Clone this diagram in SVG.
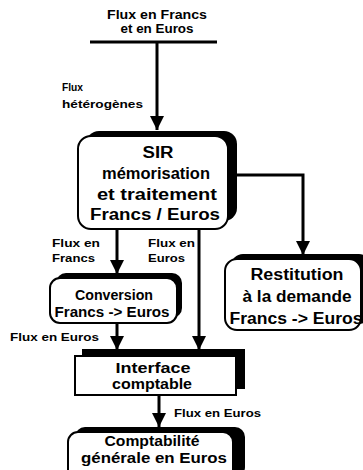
<svg xmlns="http://www.w3.org/2000/svg" width="363" height="470" viewBox="0 0 363 470">
<style>
text{font-family:"Liberation Sans","DejaVu Sans",sans-serif;font-weight:bold;fill:#000}
.lbl{font-size:11.5px}
.box{fill:#fff;stroke:#000;stroke-width:2}
.sh{fill:#000}
.big{font-size:16px;text-anchor:middle}
.mid{font-size:14px;text-anchor:middle}
.ln{fill:none;stroke:#000;stroke-width:3}
</style>
<defs>
<marker id="ah" markerUnits="userSpaceOnUse" markerWidth="14" markerHeight="14" viewBox="0 0 14 14" refX="14" refY="7" orient="auto">
<path d="M0,0 L14,7 L0,14 Z" fill="#000"/>
</marker>
</defs>
<rect width="363" height="470" fill="#fff"/>
<g id="source">
<text x="157" y="19" font-size="12" text-anchor="middle" textLength="100" lengthAdjust="spacingAndGlyphs">Flux  en Francs</text>
<text x="157" y="33" font-size="12" text-anchor="middle" textLength="73" lengthAdjust="spacingAndGlyphs">et en Euros</text>
<line x1="90" y1="42" x2="217" y2="42" stroke="#000" stroke-width="3"/>
</g>
<g id="connectors">
<line class="ln" x1="157" y1="42" x2="157" y2="130" marker-end="url(#ah)"/>
<polyline class="ln" points="236,175 303,175 303,255" marker-end="url(#ah)"/>
<line class="ln" x1="117" y1="229" x2="117" y2="274" marker-end="url(#ah)"/>
<line class="ln" x1="199" y1="229" x2="199" y2="350" marker-end="url(#ah)"/>
<line class="ln" x1="117" y1="323" x2="117" y2="350" marker-end="url(#ah)"/>
<line class="ln" x1="159" y1="395" x2="159" y2="427" marker-end="url(#ah)"/>
<text class="lbl" x="62" y="91" textLength="21" lengthAdjust="spacingAndGlyphs">Flux</text>
<text class="lbl" x="62" y="108" textLength="81" lengthAdjust="spacingAndGlyphs">hétérogènes</text>
<text class="lbl" x="52" y="247" textLength="48" lengthAdjust="spacingAndGlyphs">Flux en</text>
<text class="lbl" x="52" y="262" textLength="43" lengthAdjust="spacingAndGlyphs">Francs</text>
<text class="lbl" x="148" y="247" textLength="47" lengthAdjust="spacingAndGlyphs">Flux en</text>
<text class="lbl" x="148" y="262" textLength="37" lengthAdjust="spacingAndGlyphs">Euros</text>
<text class="lbl" x="10" y="341" textLength="89" lengthAdjust="spacingAndGlyphs">Flux en Euros</text>
<text class="lbl" x="174" y="417" textLength="87" lengthAdjust="spacingAndGlyphs">Flux en Euros</text>
</g>
<g id="sir">
<rect class="sh" x="86" y="131" width="151" height="90" rx="13"/>
<rect class="box" x="78" y="136" width="150" height="93" rx="13"/>
<text class="big" x="158" y="158" textLength="31" lengthAdjust="spacingAndGlyphs">SIR</text>
<text class="big" x="156" y="179" textLength="108" lengthAdjust="spacingAndGlyphs">mémorisation</text>
<text class="big" x="157" y="200" textLength="120" lengthAdjust="spacingAndGlyphs">et traitement</text>
<text class="big" x="155" y="220" textLength="130" lengthAdjust="spacingAndGlyphs">Francs / Euros</text>
</g>
<g id="restitution">
<rect class="sh" x="231" y="254" width="140" height="70" rx="12"/>
<rect class="box" x="225" y="259" width="136" height="71" rx="12"/>
<text class="big" x="297" y="280" textLength="93" lengthAdjust="spacingAndGlyphs">Restitution</text>
<text class="big" x="297" y="302" textLength="109" lengthAdjust="spacingAndGlyphs">à la demande</text>
<text class="big" x="296" y="324" textLength="133" lengthAdjust="spacingAndGlyphs">Francs -&gt; Euros</text>
</g>
<g id="conversion">
<rect class="sh" x="56" y="273" width="126" height="45" rx="10"/>
<rect class="box" x="50" y="278" width="127" height="45" rx="10"/>
<text class="mid" x="114" y="300" textLength="78" lengthAdjust="spacingAndGlyphs">Conversion</text>
<text class="mid" x="112" y="317" textLength="115" lengthAdjust="spacingAndGlyphs">Francs -&gt; Euros</text>
</g>
<g id="interface">
<rect class="sh" x="82" y="349" width="163" height="40"/>
<rect class="box" x="75" y="356" width="161" height="39"/>
<text class="mid" x="153" y="373" textLength="75" lengthAdjust="spacingAndGlyphs">Interface</text>
<text class="mid" x="152" y="389" textLength="80" lengthAdjust="spacingAndGlyphs">comptable</text>
</g>
<g id="comptabilite">
<rect class="sh" x="75" y="427" width="170" height="50" rx="10"/>
<rect class="box" x="68" y="432" width="165" height="50" rx="10"/>
<text class="mid" x="152" y="446" textLength="95" lengthAdjust="spacingAndGlyphs">Comptabilité</text>
<text class="mid" x="154" y="463" textLength="146" lengthAdjust="spacingAndGlyphs">générale en Euros</text>
</g>
</svg>
